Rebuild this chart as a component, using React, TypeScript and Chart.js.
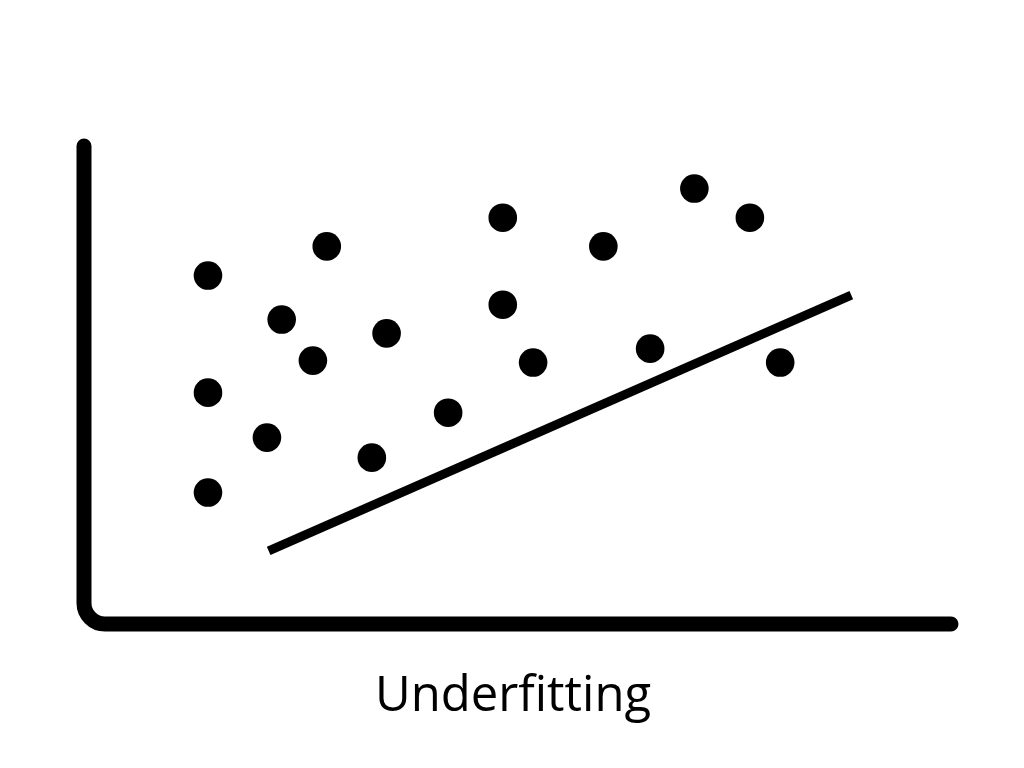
import { useEffect, useRef } from "react";
import { Chart, registerables } from "chart.js";

Chart.register(...registerables);

// Scatter points (x, y in 0–100 units)
const pointX = [14.3, 14.3, 14.3, 21.1, 22.8, 26.4, 28.0, 33.2, 34.9, 42.0, 48.3, 48.3, 51.8, 59.9, 65.3, 70.4, 76.8, 80.3];
const pointY = [72.9, 48.4, 27.5, 39.0, 63.7, 55.1, 79.0, 34.8, 60.8, 44.2, 85.0, 66.8, 54.7, 79.0, 57.6, 91.1, 85.0, 54.7];

// Fitted (underfitting) straight line
const fitLineX = [21.3, 88.5];
const fitLineY = [15.3, 68.8];

// Axes path: top of y axis -> origin -> end of x axis
const axisX = [0, 0, 100];
const axisY = [100, 0, 0];

const caption = "Underfitting";

const axesPlugin = {
  id: "roundedAxes",
  beforeDatasetsDraw(chart: any) {
    const { ctx, scales } = chart;
    const xs = scales.x;
    const ys = scales.y;
    const pts = axisX.map((v, i) => ({ x: xs.getPixelForValue(v), y: ys.getPixelForValue(axisY[i]) }));
    ctx.save();
    ctx.strokeStyle = "#000";
    ctx.lineWidth = 15;
    ctx.lineCap = "round";
    ctx.lineJoin = "round";
    ctx.beginPath();
    ctx.moveTo(pts[0].x, pts[0].y);
    for (let i = 1; i < pts.length - 1; i++) {
      ctx.arcTo(pts[i].x, pts[i].y, pts[i + 1].x, pts[i + 1].y, 21);
    }
    ctx.lineTo(pts[pts.length - 1].x, pts[pts.length - 1].y);
    ctx.stroke();
    ctx.restore();
  },
};

const captionPlugin = {
  id: "caption",
  afterDraw(chart: any) {
    const { ctx } = chart;
    ctx.save();
    ctx.fillStyle = "#000";
    ctx.font = '49px "Open Sans"';
    ctx.textAlign = "center";
    ctx.textBaseline = "alphabetic";
    ctx.fillText(caption, 513, 711);
    ctx.restore();
  },
};

export default function App() {
  const ref = useRef<HTMLCanvasElement | null>(null);

  useEffect(() => {
    if (!ref.current) return;
    const chart = new Chart(ref.current, {
      type: "scatter",
      data: {
        datasets: [
          {
            type: "scatter",
            data: pointX.map((x, i) => ({ x, y: pointY[i] })),
            backgroundColor: "#000",
            borderWidth: 0,
            pointRadius: 14.3,
            pointHoverRadius: 14.3,
            clip: false,
          } as any,
          {
            type: "line",
            data: fitLineX.map((x, i) => ({ x, y: fitLineY[i] })),
            borderColor: "#000",
            borderWidth: 9,
            borderCapStyle: "butt",
            pointRadius: 0,
            showLine: true,
            fill: false,
            clip: false,
          } as any,
        ],
      },
      options: {
        animation: false,
        responsive: false,
        maintainAspectRatio: false,
        layout: { padding: { left: 84, right: 73, top: 146, bottom: 144 } },
        scales: {
          x: { type: "linear", min: 0, max: 100, display: false },
          y: { type: "linear", min: 0, max: 100, display: false },
        },
        plugins: {
          legend: { display: false },
          tooltip: { enabled: false },
          title: { display: false },
        },
        events: [],
      },
      plugins: [axesPlugin, captionPlugin],
    });
    return () => chart.destroy();
  }, []);

  return (
    <div style={{ position: "fixed", left: 0, top: 0, width: 1024, height: 768, background: "#fff" }}>
      <canvas ref={ref} width={1024} height={768} style={{ display: "block" }} />
    </div>
  );
}
